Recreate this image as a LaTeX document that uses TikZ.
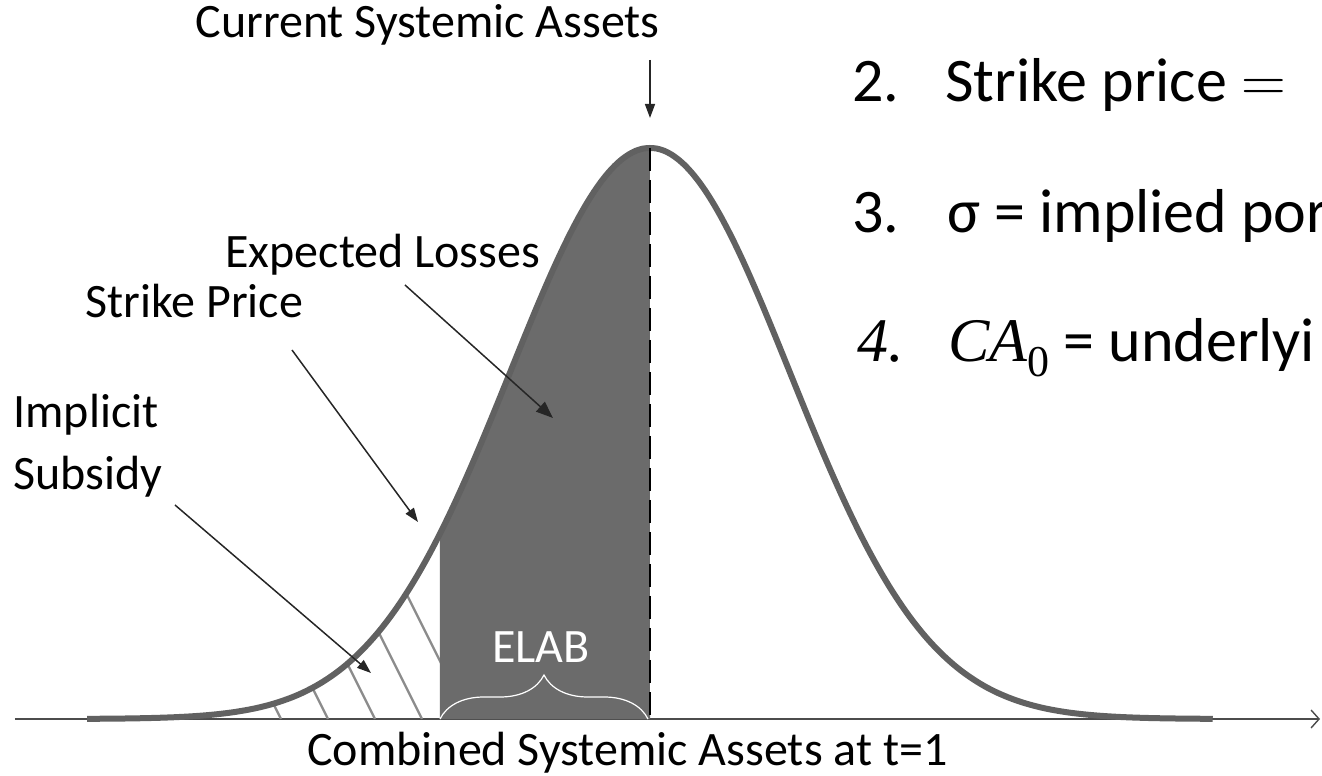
\RequirePackage{fix-cm}
\documentclass[tikz,border=0pt]{standalone}
\usepackage[no-math]{fontspec}
\setmainfont{Carlito}
\newfontfamily\mathser{Liberation Serif}
\usetikzlibrary{calc,arrows.meta,decorations.pathreplacing}

\tikzset{
  lbl/.style={font=\fontsize{24}{31}\selectfont, inner sep=0pt, anchor=base west},
  biglbl/.style={font=\fontsize{31}{37}\selectfont, inner sep=0pt, anchor=base west},
  ptr/.style={line width=0.75pt, black!85, -{Triangle[length=7pt,width=5pt]}},
  bell/.style={line width=3pt, black!62},
  hatch/.style={line width=1.2pt, black!45},
  xaxis/.style={line width=0.7pt, black!70, -{Straight Barb[length=4pt,width=9pt]}},
}

\begin{document}
\begin{tikzpicture}[x=0.5pt,y=0.5pt]
        \def\sig{140}
        \def\pk{571}
        \clip (-650,-57) rectangle (672,719);

        \coordinate (1) at (-635,0);
        \coordinate (2) at (670,0);
        \coordinate (3) at (-210,0);   % strike
        \coordinate (4) at (0,0);      % mean
        \coordinate (5) at (0,\pk);    % peak
        \coordinate (6) at (-2,0);

        % axis
        \draw[xaxis] (1) -- (2);

        % hatching under the left tail
        \begin{scope}
            \clip (-563,0) -- plot[domain=-4.02:-1.5,samples=60,smooth] ({\sig*(\x)},{\pk*exp(-0.5*(\x)^2)}) -- (3) -- cycle;
            \foreach \b in {-369,-322,-275,-228,-181}
                \draw[hatch] (\b,0) -- ++(-160,320);
        \end{scope}

        % expected losses area
        \fill[black!58] (3) -- plot[domain=-1.5:0,samples=40,smooth] ({\sig*(\x)},{\pk*exp(-0.5*(\x)^2)}) -- (4) -- cycle;

        \draw[bell] plot[domain=-4.02:4.02,samples=161,smooth] ({\sig*(\x)},{\pk*exp(-0.5*(\x)^2)});
        \draw[line width=1pt, dash pattern=on 11.5pt off 4.5pt] (5) -- (4);

        % ELAB brace
        \draw[white, line width=0.6pt, decorate, decoration={brace,amplitude=22pt}] (3) -- (6);
        \node[lbl, anchor=base, white] (elab) at (-109,56) {ELAB};

        % labels
        \node[lbl, anchor=base east] (cur) at (10,681) {Current Systemic Assets};
        \node[lbl] (exl) at (-425,451) {Expected Losses};
        \node[lbl] (stk) at (-565,401) {Strike Price};
        \node[lbl, align=left] (sub) at (-637,229) {Implicit\\Subsidy};
        \node[lbl] (comb) at (-343,-46) {Combined Systemic Assets at t=1};

        \coordinate (7) at (0,659);
        \coordinate (8) at (0,601);
        \coordinate (9) at (-245,434);
        \coordinate (10) at (-97,301);
        \coordinate (11) at (-358,369);
        \coordinate (12) at (-232,197);
        \coordinate (13) at (-475,214);
        \coordinate (14) at (-279,46);
        \draw[ptr] (7) -- (8);
        \draw[ptr, -{Triangle[length=8.5pt,width=6.5pt]}] (9) -- (10);
        \draw[ptr] (11) -- (12);
        \draw[ptr] (13) -- (14);

        % list on the right
        \node[biglbl] (l2) at (202,617) {\makebox[46.5pt][l]{2.}Strike price $=$};
        \node[biglbl] (l3) at (202,486) {\makebox[47.5pt][l]{3.}σ = implied por};
        \node[biglbl] (l4) at (207,357) {\makebox[45.5pt][l]{\mathser\itshape 4.}{\mathser\itshape CA\raisebox{-7.5pt}{\upshape\fontsize{22}{22}\selectfont 0}} = underlyi};
    \end{tikzpicture}
\end{document}
